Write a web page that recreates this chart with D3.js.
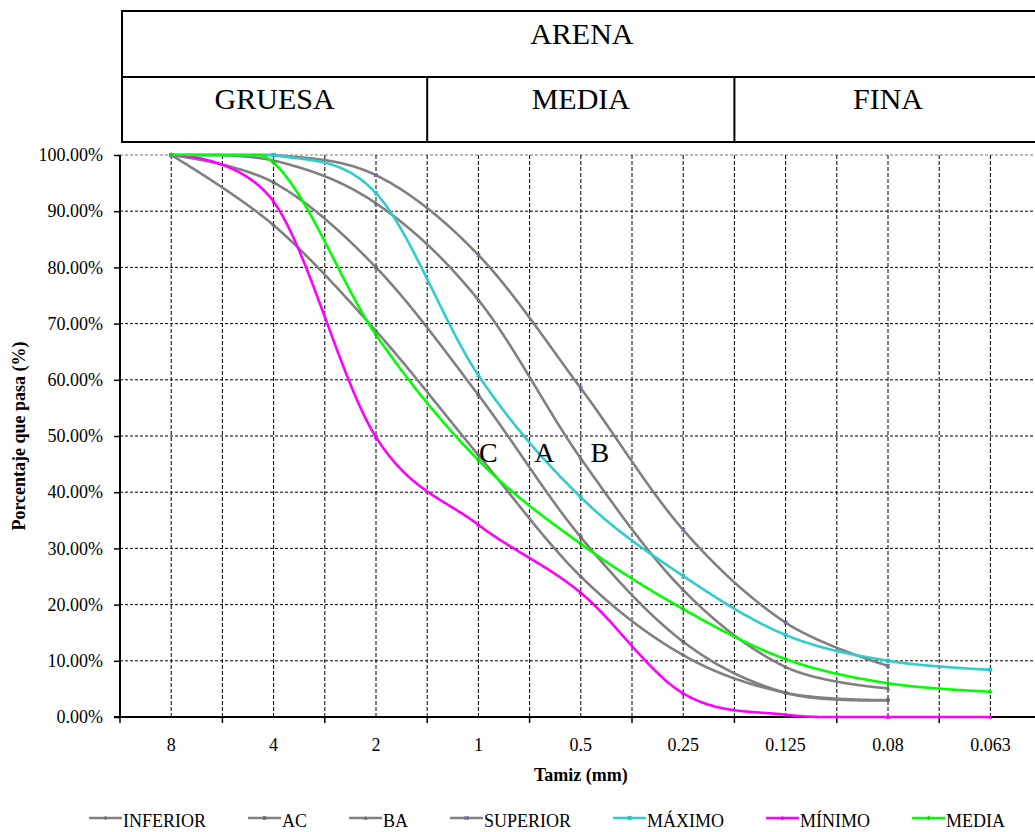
<!DOCTYPE html>
<html>
<head>
<meta charset="utf-8">
<script src="https://cdn.jsdelivr.net/npm/d3@7"></script>
<style>
  body { margin: 0; background: #fff; }
  svg { display: block; }
</style>
</head>
<body>
<svg id="chart" width="1035" height="832"></svg>
<script>
// Sieve sizes (mm) used as ordinal categories on the x axis
const categories = ["8", "4", "2", "1", "0.5", "0.25", "0.125", "0.08", "0.063"];

// Percentage passing for each curve, one value per sieve
const inferior = [100, 87.5, 68.7, 46.6, 25.0, 11.0, 4.3, 3.0];
const ac       = [100, 95.1, 80.0, 57.3, 32.0, 13.4, 4.3, 3.0];
const ba       = [100, 99.0, 91.4, 74.2, 46.0, 22.6, 8.9, 5.1];
const superior = [100, 100, 96.4, 82.2, 58.5, 33.3, 16.8, 9.1];
const maximo   = [100, 100, 93.2, 60.8, 39.1, 25.1, 14.6, 10.0, 8.4];
const minimo   = [100, 91.7, 49.8, 34.2, 22.1, 4.2, 0.4, 0, 0];
const media    = [100, 98.6, 68.0, 45.7, 30.8, 19.2, 10.3, 6.0, 4.5];

const yTicks = [0, 10, 20, 30, 40, 50, 60, 70, 80, 90, 100];

// Sand classification header
const headerTitle = "ARENA";
const sandClasses = ["GRUESA", "MEDIA", "FINA"];
// Zone names between the limit curves
const zoneNames = ["C", "A", "B"];

const seriesNames = ["INFERIOR", "AC", "BA", "SUPERIOR", "MÁXIMO", "MÍNIMO", "MEDIA"];

// ---------------------------------------------------------------
const svg = d3.select("#chart");
const serif = "'Liberation Serif','Times New Roman',serif";
const plot = { left: 120, top: 155, right: 1041.6, bottom: 717 };

const x = d3.scaleBand().domain(categories).range([plot.left, plot.right]).padding(0);
const bw = x.bandwidth();
const cx = c => x(c) + bw / 2;
const y = d3.scaleLinear().domain([0, 100]).range([plot.bottom, plot.top]);

const GRAY = "#808080", CYAN = "#33CCCC", MAGENTA = "#FF00FF", GREEN = "#00FF00";

const series = [
  { name: seriesNames[0], values: inferior, color: GRAY, marker: "diamond", mcolor: "#707070" },
  { name: seriesNames[1], values: ac,       color: GRAY, marker: "square",  mcolor: "#6a6a6a" },
  { name: seriesNames[2], values: ba,       color: GRAY, marker: "triangle", mcolor: "#707070" },
  { name: seriesNames[3], values: superior, color: GRAY, marker: "x",       mcolor: "#7a5ea8" },
  { name: seriesNames[4], values: maximo,   color: CYAN, marker: "star",    mcolor: "#2bbfc8" },
  { name: seriesNames[5], values: minimo,   color: MAGENTA, marker: "triangle", mcolor: "#e800e8" },
  { name: seriesNames[6], values: media,    color: GREEN, marker: "plus",   mcolor: "#00e000" }
];

// ---------------- Header table ----------------
const hdr = svg.append("g");
const hx0 = 122, hy0 = 11, hyMid = 77, hy1 = 142;
hdr.append("rect")
  .attr("x", hx0).attr("y", hy0)
  .attr("width", plot.right - hx0).attr("height", hy1 - hy0)
  .attr("fill", "none").attr("stroke", "#000").attr("stroke-width", 2);
hdr.append("line")
  .attr("x1", hx0).attr("x2", plot.right).attr("y1", hyMid).attr("y2", hyMid)
  .attr("stroke", "#000").attr("stroke-width", 2);

// class boundaries fall on the 1 mm and 0.125 mm band edges
const classEdges = [hx0, x("1"), x("0.125"), plot.right];
[1, 2].forEach(i => {
  hdr.append("line")
    .attr("x1", classEdges[i]).attr("x2", classEdges[i])
    .attr("y1", hyMid).attr("y2", hy1)
    .attr("stroke", "#000").attr("stroke-width", 2);
});
hdr.append("text")
  .attr("x", (hx0 + plot.right) / 2).attr("y", 43.5)
  .attr("text-anchor", "middle")
  .style("font-family", serif).style("font-size", "30px")
  .text(headerTitle);
sandClasses.forEach((s, i) => {
  hdr.append("text")
    .attr("x", (classEdges[i] + classEdges[i + 1]) / 2).attr("y", 108.5)
    .attr("text-anchor", "middle")
    .style("font-family", serif).style("font-size", "30px")
    .text(s);
});

// ---------------- Grid ----------------
const grid = svg.append("g");
yTicks.filter(t => t > 0).forEach(t => {
  grid.append("line")
    .attr("x1", plot.left).attr("x2", plot.right)
    .attr("y1", y(t)).attr("y2", y(t))
    .attr("stroke", t === 100 ? "#777" : "#000")
    .attr("stroke-width", 1)
    .attr("stroke-dasharray", "3,2");
});
categories.forEach((c, i) => {
  const xs = [cx(c)];
  if (i > 0) xs.push(x(c));
  if (i === categories.length - 1) xs.push(plot.right);
  xs.forEach(xx => {
    grid.append("line")
      .attr("x1", xx).attr("x2", xx)
      .attr("y1", plot.top).attr("y2", plot.bottom)
      .attr("stroke", "#000").attr("stroke-width", 1)
      .attr("stroke-dasharray", "4,2");
  });
});

// ---------------- Axes ----------------
const yAxis = svg.append("g")
  .attr("transform", `translate(${plot.left},0)`)
  .call(d3.axisLeft(y).tickValues(yTicks).tickFormat(d => d.toFixed(2) + "%")
    .tickSize(6).tickPadding(11));
yAxis.select(".domain").remove();
yAxis.selectAll(".tick line").attr("stroke", "#000").attr("stroke-width", 1.5);
yAxis.selectAll(".tick text")
  .style("font-family", serif).style("font-size", "18px").attr("fill", "#000");
svg.append("line")
  .attr("x1", plot.left).attr("x2", plot.left)
  .attr("y1", plot.top).attr("y2", plot.bottom + 1)
  .attr("stroke", "#000").attr("stroke-width", 2);

// x axis: labels centered in each band, tick marks on the band edges
const xAxis = svg.append("g")
  .attr("transform", `translate(0,${plot.bottom})`)
  .call(d3.axisBottom(x).tickSize(0).tickPadding(0));
xAxis.select(".domain").remove();
xAxis.selectAll(".tick text")
  .attr("dy", null).attr("y", 34)
  .style("font-family", serif).style("font-size", "18px").attr("fill", "#000");
svg.append("line")
  .attr("x1", plot.left - 6).attr("x2", plot.right)
  .attr("y1", plot.bottom).attr("y2", plot.bottom)
  .attr("stroke", "#000").attr("stroke-width", 2);
categories.forEach(c => {
  svg.append("line")
    .attr("x1", x(c)).attr("x2", x(c))
    .attr("y1", plot.bottom).attr("y2", plot.bottom + 6)
    .attr("stroke", "#000").attr("stroke-width", 1.5);
});

// Axis titles
svg.append("text")
  .attr("x", (plot.left + plot.right) / 2).attr("y", 781)
  .attr("text-anchor", "middle")
  .style("font-family", serif).style("font-size", "18px").style("font-weight", "bold")
  .text("Tamiz (mm)");
svg.append("text")
  .attr("transform", `translate(25,${(plot.top + plot.bottom) / 2}) rotate(-90)`)
  .attr("text-anchor", "middle")
  .style("font-family", serif).style("font-size", "18px").style("font-weight", "bold")
  .text("Porcentaje que pasa (%)");

// ---------------- Curves ----------------
// Smoothed line through the points; the path is kept inside the plot
// area by holding overshooting parts on its top/bottom edge.
function smoothPath(values) {
  const pts = values.map((v, i) => [cx(categories[i]), y(v)]);
  const d = d3.line().curve(d3.curveCardinal.tension(0))(pts);
  const tmp = svg.append("path").attr("d", d).attr("fill", "none");
  const node = tmp.node();
  const L = node.getTotalLength();
  const clampY = v => Math.max(plot.top, Math.min(plot.bottom, v));
  const out = [];
  for (let s = 0; s < L; s += 1) {
    const p = node.getPointAtLength(s);
    out.push([p.x, clampY(p.y)]);
  }
  const e = node.getPointAtLength(L);
  out.push([e.x, clampY(e.y)]);
  tmp.remove();
  return d3.line()(out);
}

function drawMarker(g, type, px, py, color, s) {
  const sz = s || 2.2;
  if (type === "square") {
    g.append("rect").attr("x", px - sz).attr("y", py - sz)
      .attr("width", sz * 2).attr("height", sz * 2).attr("fill", color);
  } else if (type === "diamond") {
    g.append("path").attr("d", `M${px},${py - sz * 1.2}L${px + sz * 1.2},${py}L${px},${py + sz * 1.2}L${px - sz * 1.2},${py}Z`)
      .attr("fill", color);
  } else if (type === "triangle") {
    g.append("path").attr("d", `M${px},${py - sz * 1.3}L${px + sz * 1.2},${py + sz}L${px - sz * 1.2},${py + sz}Z`)
      .attr("fill", color);
  } else if (type === "x") {
    g.append("path").attr("d", `M${px - sz},${py - sz}L${px + sz},${py + sz}M${px - sz},${py + sz}L${px + sz},${py - sz}`)
      .attr("stroke", color).attr("stroke-width", 1.3);
  } else if (type === "plus") {
    g.append("path").attr("d", `M${px - sz},${py}L${px + sz},${py}M${px},${py - sz * 1.3}L${px},${py + sz * 1.3}`)
      .attr("stroke", color).attr("stroke-width", 1.6);
  } else if (type === "star") {
    g.append("path").attr("d", `M${px - sz},${py - sz}L${px + sz},${py + sz}M${px - sz},${py + sz}L${px + sz},${py - sz}M${px},${py - sz * 1.3}L${px},${py + sz * 1.3}`)
      .attr("stroke", color).attr("stroke-width", 1.3);
  }
}

const curves = svg.append("g");
series.forEach(sr => {
  curves.append("path")
    .attr("d", smoothPath(sr.values))
    .attr("fill", "none")
    .attr("stroke", sr.color)
    .attr("stroke-width", 2.6)
    .attr("stroke-linejoin", "round")
    .attr("stroke-linecap", "round");
  const mg = curves.append("g");
  sr.values.forEach((v, i) => {
    drawMarker(mg, sr.marker, cx(categories[i]), y(v), sr.mcolor, 1.8);
  });
});

// Zone labels between the limit curves
const zoneAt = [
  { x: cx("1") + 10, v: 47 },
  { x: cx("1") + 66, v: 47 },
  { x: cx("0.5") + 19, v: 47 }
];
zoneNames.forEach((z, i) => {
  svg.append("text")
    .attr("x", zoneAt[i].x).attr("y", y(zoneAt[i].v) + 9.5)
    .attr("text-anchor", "middle")
    .style("font-family", serif).style("font-size", "28px")
    .text(z);
});

// ---------------- Legend ----------------
const legend = svg.append("g");
let lx = 89;
const ly = 818;
series.forEach(sr => {
  legend.append("line")
    .attr("x1", lx).attr("x2", lx + 33).attr("y1", ly).attr("y2", ly)
    .attr("stroke", sr.color).attr("stroke-width", 2.6);
  drawMarker(legend, sr.marker, lx + 16.5, ly, sr.mcolor, 1.8);
  const t = legend.append("text")
    .attr("x", lx + 34).attr("y", 827)
    .style("font-family", serif).style("font-size", "18px").attr("fill", "#000")
    .text(sr.name);
  lx += 34 + t.node().getComputedTextLength() + 42;
});
</script>
</body>
</html>
